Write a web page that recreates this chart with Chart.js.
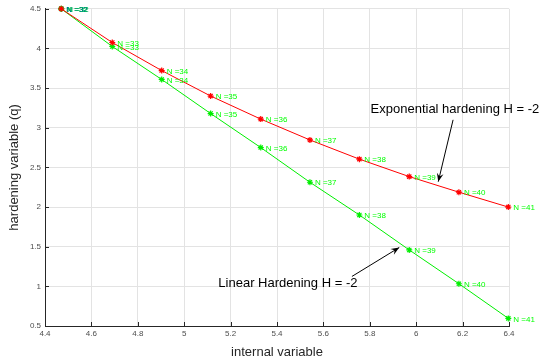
<!DOCTYPE html>
<html><head><meta charset="utf-8">
<script src="https://cdn.jsdelivr.net/npm/chart.js@4.4.1/dist/chart.umd.min.js"></script>
<style>html,body{margin:0;padding:0;background:#fff}#wrap{width:556px;height:363px}</style>
</head><body><div id="wrap"><canvas id="c" width="556" height="363"></canvas></div>
<script>
const iterations = [32,33,34,35,36,37,38,39,40,41];
const internalVar = [4.47,4.690,4.903,5.114,5.330,5.542,5.755,5.970,6.184,6.397];
const expHardening = [4.5,4.075,3.721,3.40,3.109,2.846,2.604,2.384,2.1875,2.0];
const linHardening = [4.5,4.025,3.609,3.179,2.75,2.3125,1.9,1.459,1.033,0.596];
const startPoint = [{x:4.47,y:4.5}];
const xTicks = [4.4,4.6,4.8,5,5.2,5.4,5.6,5.8,6,6.2,6.4];
const yTicks = [0.5,1,1.5,2,2.5,3,3.5,4,4.5];

const FONT = '"Liberation Sans", Arial, sans-serif';
const mk = arr => arr.map((v,i)=>({x:internalVar[i],y:v}));

const overlay = {
  id:'overlay',
  afterDatasetsDraw(chart){
    const {ctx, scales:{x,y}, chartArea:a} = chart;
    ctx.save();
    ctx.strokeStyle='#262626'; ctx.lineWidth=1;
    xTicks.forEach(t=>{const px=Math.round(x.getPixelForValue(t))+0.5;ctx.beginPath();ctx.moveTo(px,a.bottom);ctx.lineTo(px,a.bottom-4);ctx.stroke();});
    yTicks.forEach(t=>{const py=Math.round(y.getPixelForValue(t))+0.5;ctx.beginPath();ctx.moveTo(a.left,py);ctx.lineTo(a.left+4,py);ctx.stroke();});
    ctx.font='8px '+FONT; ctx.textBaseline='middle'; ctx.textAlign='left';
    [expHardening, linHardening].forEach(series=>{
      series.forEach((v,i)=>{
        ctx.fillStyle='#00ff00';
        ctx.fillText('N ='+iterations[i], x.getPixelForValue(internalVar[i])+5, y.getPixelForValue(v)+1);
      });
    });
    ctx.fillStyle='#0040c0';
    ctx.fillText('N =32', x.getPixelForValue(internalVar[0])+5, y.getPixelForValue(4.5)+1);
    ctx.fillStyle='#00c060';
    ctx.fillText('N =32', x.getPixelForValue(internalVar[0])+6, y.getPixelForValue(4.5)+1);
    ctx.fillStyle='#000'; ctx.font='13px '+FONT; ctx.textAlign='center';
    ctx.fillText('Exponential hardening H = -2', x.getPixelForValue(6.167), y.getPixelForValue(3.237));
    ctx.fillText('Linear Hardening H = -2', x.getPixelForValue(5.447), y.getPixelForValue(1.04));
    const arrow=(x0,y0,x1,y1)=>{
      const p0=[x.getPixelForValue(x0),y.getPixelForValue(y0)], p1=[x.getPixelForValue(x1),y.getPixelForValue(y1)];
      ctx.strokeStyle='#000'; ctx.lineWidth=1;
      ctx.beginPath();ctx.moveTo(p0[0],p0[1]);ctx.lineTo(p1[0],p1[1]);ctx.stroke();
      const ang=Math.atan2(p1[1]-p0[1],p1[0]-p0[0]), L=9, W=0.38;
      ctx.fillStyle='#000';ctx.beginPath();ctx.moveTo(p1[0],p1[1]);
      ctx.lineTo(p1[0]-L*Math.cos(ang-W),p1[1]-L*Math.sin(ang-W));
      ctx.lineTo(p1[0]-L*0.6*Math.cos(ang),p1[1]-L*0.6*Math.sin(ang));
      ctx.lineTo(p1[0]-L*Math.cos(ang+W),p1[1]-L*Math.sin(ang+W));ctx.closePath();ctx.fill();
    };
    arrow(6.159,3.1,6.095,2.32);
    arrow(5.723,1.125,5.927,1.49);
    ctx.fillStyle='#262626'; ctx.font='13px '+FONT; ctx.textAlign='center'; ctx.textBaseline='middle';
    ctx.fillText('internal variable', (a.left+a.right)/2, 352);
    ctx.save(); ctx.translate(14,(a.top+a.bottom)/2); ctx.rotate(-Math.PI/2);
    ctx.fillText('hardening variable (q)',0,0); ctx.restore();
    ctx.restore();
  }
};

new Chart(document.getElementById('c'),{
  type:'scatter',
  data:{datasets:[
    {label:'exp',data:mk(expHardening),showLine:true,borderColor:'#ff0000',backgroundColor:'#ff0000',borderWidth:1,pointStyle:'star',pointRadius:3,pointBorderWidth:1.2,pointBorderColor:'#ff0000',clip:false},
    {label:'lin',data:mk(linHardening),showLine:true,borderColor:'#00ee00',backgroundColor:'#00ee00',borderWidth:1,pointStyle:'star',pointRadius:3,pointBorderWidth:1.2,pointBorderColor:'#00ee00',clip:false},
    {label:'start',data:startPoint,showLine:false,pointStyle:'circle',pointRadius:2.5,backgroundColor:'#00cc44',borderColor:'#00cc44',clip:false}
  ]},
  options:{
    responsive:false,animation:false,
    layout:{padding:{top:6,right:47,left:0,bottom:0}},
    plugins:{legend:{display:false},tooltip:{enabled:false}},
    scales:{
      x:{type:'linear',min:4.4,max:6.4,
        afterBuildTicks:s=>{s.ticks=xTicks.map(v=>({value:v}));},
        afterFit:s=>{s.height=37;},
        grid:{color:'#e3e3e3',drawTicks:false},
        border:{color:'#262626',width:1},
        ticks:{padding:3,color:'#4d4d4d',font:{size:8,family:FONT},maxRotation:0,autoSkip:false,callback:v=>String(v)}},
      y:{type:'linear',min:0.5,max:4.5,
        afterBuildTicks:s=>{s.ticks=yTicks.map(v=>({value:v}));},
        afterFit:s=>{s.width=45;},
        grid:{color:'#e3e3e3',drawTicks:false},
        border:{color:'#262626',width:1},
        ticks:{padding:4,color:'#4d4d4d',font:{size:8,family:FONT},autoSkip:false,callback:v=>String(v)}}
    }
  },
  plugins:[overlay]
});
</script></body></html>
